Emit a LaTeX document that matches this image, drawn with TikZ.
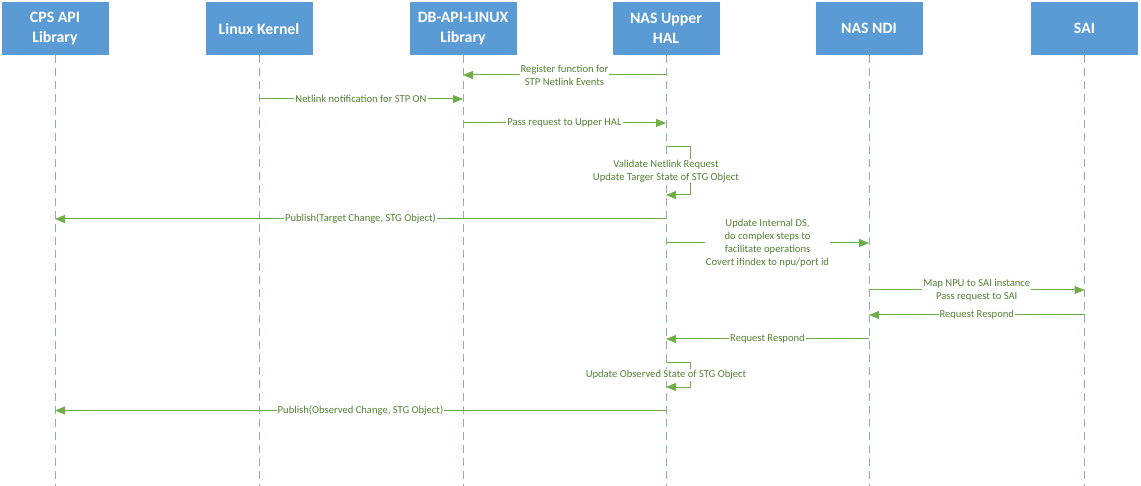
\documentclass[tikz,border=0pt]{standalone}
\usepackage{fontspec}
\setmainfont{Carlito}
\usetikzlibrary{arrows.meta}
\definecolor{hdr}{HTML}{5B9BD5}
\definecolor{life}{HTML}{8FAAC8}
\definecolor{arr}{HTML}{70AD47}
\definecolor{txt}{HTML}{548235}
\begin{document}
\begin{tikzpicture}[x=1pt,y=-1pt,
  hdrbox/.style={fill=hdr, text=white, font=\fontsize{15.8}{20}\selectfont\bfseries,
    minimum width=107pt, minimum height=53pt, align=center, inner sep=0pt, anchor=north},
  lifeline/.style={draw=life, line width=0.9pt, dash pattern=on 8pt off 5pt},
  msg/.style={draw=arr, line width=1pt, -{Triangle[length=10pt,width=8pt]}},
  lbl/.style={fill=white, text=txt, font=\fontsize{10.6}{12.8}\selectfont, inner sep=1pt, align=center}]
\useasboundingbox (0,0) rectangle (1141,486);
% headers
\node[hdrbox] (cps) at (55,2) {CPS API\\Library};
\node[hdrbox] (lk)  at (259,2) {Linux Kernel};
\node[hdrbox] (db)  at (463,2) {DB-API-LINUX\\Library};
\node[hdrbox] (hal) at (666,2) {NAS Upper\\HAL};
\node[hdrbox] (ndi) at (869,2) {NAS NDI};
\node[hdrbox] (sai) at (1084.5,2) {SAI};
% lifelines
\foreach \n in {cps,lk,db,hal,ndi,sai}{
  \coordinate (\n end) at (\n.south |- 0,486);
  \draw[lifeline] (\n.south) -- (\n end);
}
% messages
\draw[msg] (hal |- 0,75) -- node[lbl]{Register function for\\STP Netlink Events} (db |- 0,75);
\draw[msg] (lk |- 0,99) -- node[lbl]{Netlink notification for STP ON} (db |- 0,99);
\draw[msg] (db |- 0,123) -- node[lbl]{Pass request to Upper HAL} (hal |- 0,123);
% self loop 1
\draw[msg] (hal |- 0,147) -- ++(24,0) -- ++(0,48) -- (hal |- 0,195);
\node[lbl] (v1) at (hal |- 0,171) {Validate Netlink Request\\Update Targer State of STG Object};
\draw[msg] (hal |- 0,219) -- node[lbl]{Publish(Target Change, STG Object)} (cps |- 0,219);
\draw[msg] (hal |- 0,243) -- node[lbl]{Update Internal DS,\\do complex steps to\\facilitate operations\\Covert ifindex to npu/port id} (ndi |- 0,243);
\draw[msg] (ndi |- 0,290) -- node[lbl]{Map NPU to SAI instance\\Pass request to SAI} (sai |- 0,290);
\draw[msg] (sai |- 0,315) -- node[lbl]{Request Respond} (ndi |- 0,315);
\draw[msg] (ndi |- 0,339) -- node[lbl]{Request Respond} (hal |- 0,339);
% self loop 2
\draw[msg] (hal |- 0,363) -- ++(24,0) -- ++(0,24) -- (hal |- 0,387);
\node[lbl] (v2) at (hal |- 0,375) {Update Observed State of STG Object};
\draw[msg] (hal |- 0,410.5) -- node[lbl]{Publish(Observed Change, STG Object)} (cps |- 0,410.5);
\end{tikzpicture}
\end{document}
